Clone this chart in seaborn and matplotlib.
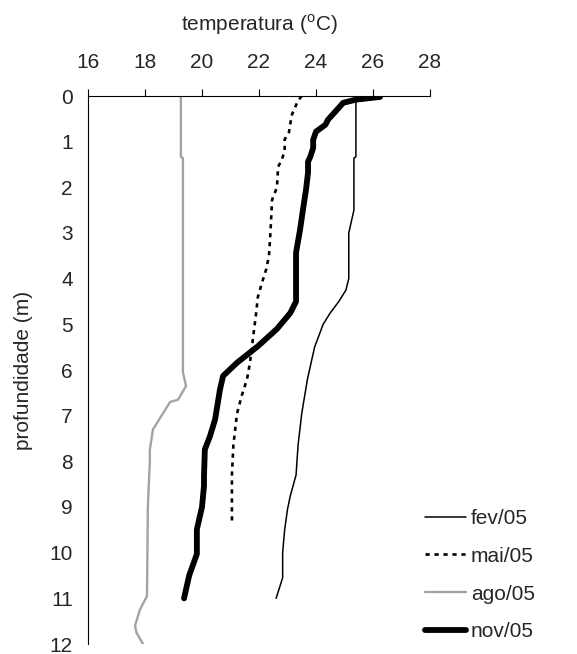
import matplotlib
matplotlib.use("Agg")
import matplotlib.pyplot as plt
import seaborn as sns
import pandas as pd

# Temperature profiles (depth in m, temperature in degC)
fev_depth = [0.0, 0.1, 1.33, 1.36, 2.5, 3.0, 4.0, 4.25, 4.5, 4.75, 5.0, 5.5, 6.2,
             6.95, 7.65, 8.3, 8.75, 9.05, 9.5, 10.0, 10.55, 11.0]
fev_temp = [25.4, 25.4, 25.4, 25.33, 25.33, 25.15, 25.15, 25.05, 24.8, 24.5, 24.25,
            23.95, 23.7, 23.5, 23.37, 23.3, 23.1, 23.0, 22.9, 22.83, 22.83, 22.6]

mai_depth = [0.0, 0.1, 0.4, 0.6, 0.8, 0.95, 1.2, 1.4, 1.55, 2.0, 2.27, 3.0, 3.5,
             3.8, 4.1, 4.4, 4.75, 5.5, 5.85, 6.2, 6.55, 6.95, 7.65, 8.3, 9.35]
mai_temp = [23.5, 23.37, 23.16, 23.1, 23.05, 22.9, 22.9, 22.8, 22.67, 22.63, 22.46,
            22.4, 22.35, 22.25, 22.1, 21.96, 21.9, 21.75, 21.68, 21.58, 21.4, 21.23,
            21.1, 21.05, 21.05]

ago_depth = [0.0, 1.33, 1.36, 6.05, 6.35, 6.65, 6.7, 7.3, 7.75, 8.0, 9.0, 10.95,
             11.25, 11.6, 11.75, 12.0]
ago_temp = [19.26, 19.26, 19.33, 19.33, 19.44, 19.16, 18.88, 18.28, 18.17, 18.17,
            18.1, 18.07, 17.82, 17.65, 17.7, 17.93]

nov_depth = [0.02, 0.08, 0.15, 0.23, 0.52, 0.63, 0.78, 0.96, 1.14, 1.33, 1.44, 1.68,
             2.05, 2.5, 2.93, 3.43, 4.24, 4.5, 4.75, 5.1, 5.48, 5.84, 6.13, 6.43,
             7.08, 7.45, 7.74, 8.33, 8.54, 9.0, 9.49, 10.03, 10.5, 11.0]
nov_temp = [26.25, 25.4, 24.95, 24.84, 24.42, 24.33, 24.0, 23.9, 23.9, 23.8, 23.72,
            23.72, 23.65, 23.54, 23.44, 23.3, 23.3, 23.3, 23.1, 22.63, 21.96, 21.23,
            20.74, 20.63, 20.46, 20.28, 20.1, 20.07, 20.07, 20.0, 19.82, 19.82,
            19.55, 19.37]

series = [
    ("fev/05", fev_depth, fev_temp, dict(color="black", lw=1.1, ls="-")),
    ("mai/05", mai_depth, mai_temp, dict(color="black", lw=1.9, ls=(0, (1.6, 1.8)))),
    ("ago/05", ago_depth, ago_temp, dict(color="#a3a3a3", lw=1.7, ls="-")),
    ("nov/05", nov_depth, nov_temp, dict(color="black", lw=4.2, ls="-")),
]

x_ticks = [16, 18, 20, 22, 24, 26, 28]
y_ticks = list(range(0, 13))

FS = 15

sns.set_theme(style="white")
plt.rcParams["font.family"] = ["Liberation Sans", "DejaVu Sans"]
plt.rcParams["mathtext.fontset"] = "custom"
plt.rcParams["mathtext.rm"] = "Liberation Sans"

fig = plt.figure(figsize=(5.77, 6.54), dpi=100)
ax = fig.add_axes([88 / 577, 1 - 644 / 654, (430 - 88) / 577, (644 - 96) / 654])

for name, depth, temp, st in series:
    df = pd.DataFrame({"temperatura": temp, "profundidade": depth})
    sns.lineplot(data=df, x="temperatura", y="profundidade", sort=False,
                 estimator=None, ax=ax, label=name, color=st["color"],
                 linewidth=st["lw"], linestyle=st["ls"],
                 solid_capstyle="round", dash_capstyle="butt")

ax.set_xlim(16, 28)
ax.set_ylim(12, 0)
ax.set_xticks(x_ticks)
ax.set_yticks(y_ticks)
ax.xaxis.tick_top()
ax.xaxis.set_label_position("top")
ax.set_xlabel(r"temperatura ($^{\rm o}$C)", fontsize=FS, labelpad=16)
ax.set_ylabel("profundidade (m)", fontsize=FS, labelpad=12)
ax.tick_params(axis="both", labelsize=FS, direction="out", length=5, width=0.8,
               color="black")
ax.tick_params(axis="y", pad=6)
ax.tick_params(axis="x", pad=12)

for side in ["right", "bottom"]:
    ax.spines[side].set_visible(False)
for side in ["top", "left"]:
    ax.spines[side].set_color("black")
    ax.spines[side].set_linewidth(0.8)

ax.get_legend().remove()
handles, labels = ax.get_legend_handles_labels()
fig.legend(handles, labels, loc="upper left",
           bbox_to_anchor=(425 / 577, 1 - 509 / 654), frameon=False,
           fontsize=FS, handlelength=1.95, handletextpad=0.25,
           labelspacing=0.9, borderpad=0, borderaxespad=0)

fig.savefig("out.png", dpi=100, facecolor="white")
